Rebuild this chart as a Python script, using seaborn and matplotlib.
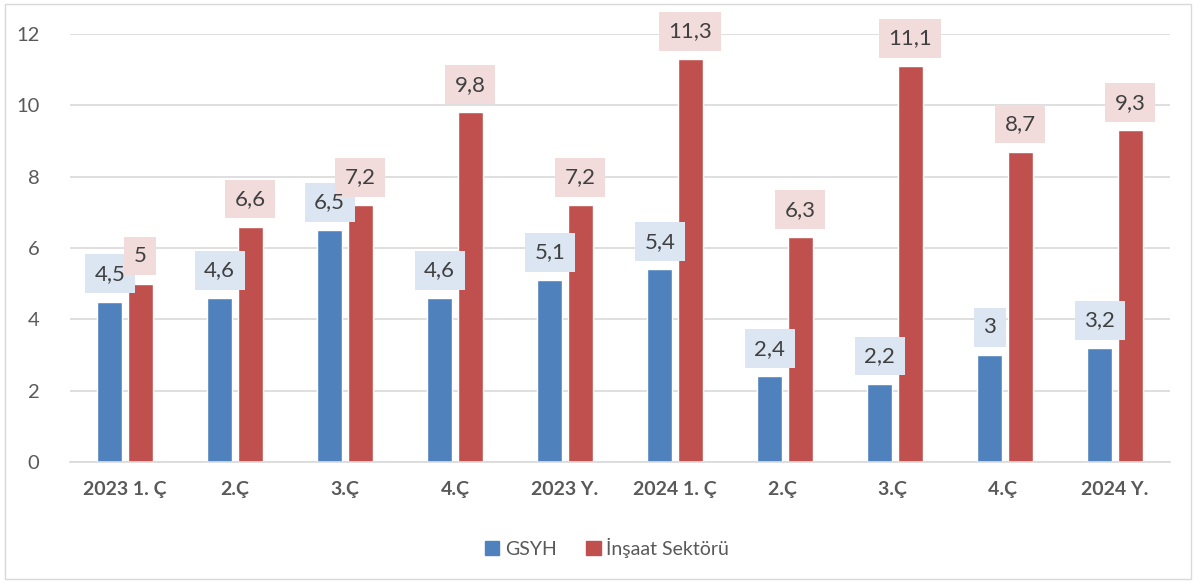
import pandas as pd
import seaborn as sns
import matplotlib.pyplot as plt
from matplotlib.patches import Rectangle

categories = ["2023 1. Ç", "2.Ç", "3.Ç", "4.Ç", "2023 Y.", "2024 1. Ç", "2.Ç ", "3.Ç ", "4.Ç ", "2024 Y."]
gsyh = [4.5, 4.6, 6.5, 4.6, 5.1, 5.4, 2.4, 2.2, 3.0, 3.2]
insaat = [5.0, 6.6, 7.2, 9.8, 7.2, 11.3, 6.3, 11.1, 8.7, 9.3]
series = ["GSYH", "İnşaat Sektörü"]

df = pd.DataFrame({
    "kategori": categories * 2,
    "deger": gsyh + insaat,
    "seri": [series[0]] * len(categories) + [series[1]] * len(categories),
})

colors = ["#4f81bd", "#c0504d"]
label_bg = ["#dce6f2", "#f2dcdb"]

sns.set_style("white")
plt.rcParams["font.family"] = ["Lato", "DejaVu Sans"]

fig = plt.figure(figsize=(11.94, 5.83), dpi=100)
ax = fig.add_axes([70 / 1194, 121 / 583, 1100 / 1194, (462 - 34) / 583])

sns.barplot(data=df, x="kategori", y="deger", hue="seri", palette=colors,
            width=0.555, gap=0.17, saturation=1, ax=ax, legend=False)

ax.set_ylim(0, 12)
ax.set_xlim(-0.5, len(categories) - 0.5)
ax.set_yticks(range(0, 13, 2))
ax.yaxis.grid(True, color="#d9d9d9", linewidth=1.2)
ax.set_axisbelow(True)
for s in ["top", "right", "left"]:
    ax.spines[s].set_visible(False)
ax.spines["bottom"].set_color("#d9d9d9")
ax.spines["bottom"].set_linewidth(1.2)
ax.set_xlabel("")
ax.set_ylabel("")
ax.tick_params(axis="y", length=0, labelsize=14.5, labelcolor="#595959", pad=22)
ax.tick_params(axis="x", length=0, labelsize=14, labelcolor="#595959", pad=14)
for t in ax.get_xticklabels():
    t.set_fontweight("bold")

# değer etiketleri: önce kutular, sonra yazılar (üst üste binince yazı kaybolmasın)
fs = 16
pad = 0.42
for text_pass in (False, True):
    for i, cont in enumerate(ax.containers):
        vals = gsyh if i == 0 else insaat
        for bar, v in zip(cont, vals):
            txt = f"{v:g}".replace(".", ",")
            kw = dict(xytext=(0, 6 + pad * fs), textcoords="offset points",
                      ha="center", va="bottom", fontsize=fs)
            if text_pass:
                ax.annotate(txt, (bar.get_x() + bar.get_width() / 2, v),
                            color="#404040", zorder=6, **kw)
            else:
                ax.annotate(txt, (bar.get_x() + bar.get_width() / 2, v),
                            color="none", zorder=5, **kw,
                            bbox=dict(boxstyle=f"square,pad={pad}", fc=label_bg[i], ec="none"))

handles = [Rectangle((0, 0), 1, 1, color=c) for c in colors]
fig.legend(handles, series, loc="center", bbox_to_anchor=(607 / 1194, 1 - 548 / 583),
           ncol=2, frameon=False, fontsize=14, handlelength=0.75, handleheight=0.75,
           handletextpad=0.3, columnspacing=1.5, labelcolor="#595959")

fig.patches.append(Rectangle((5 / 1194, 4 / 583), 1186 / 1194, 575 / 583,
                             transform=fig.transFigure, fill=False, ec="#d9d9d9", lw=1))

fig.savefig("out.png", dpi=100)
